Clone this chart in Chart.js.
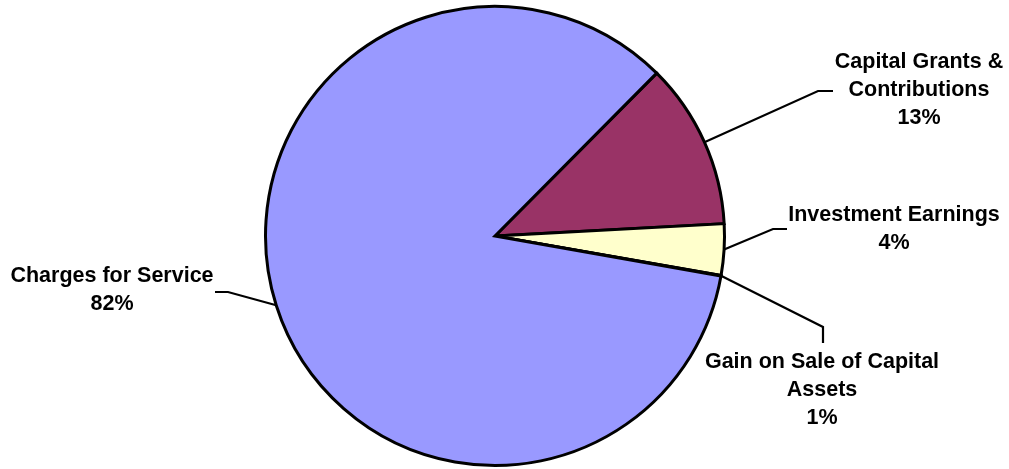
<!DOCTYPE html>
<html>
<head>
<meta charset="utf-8">
<script src="https://cdn.jsdelivr.net/npm/chart.js@4.4.0/dist/chart.umd.min.js"></script>
<style>
  html, body { margin: 0; padding: 0; background: #ffffff; }
  #wrap { width: 1009px; height: 469px; }
</style>
</head>
<body>
<div id="wrap"><canvas id="c" width="1009" height="469"></canvas></div>
<script>
// ---- data ----
const categories = ["Capital Grants & Contributions", "Investment Earnings", "Gain on Sale of Capital Assets", "Charges for Service"];
const shares = [11.7, 3.6, 0.05, 84.65];          // slice sizes as drawn
const percentLabels = ["13%", "4%", "1%", "82%"]; // percentages printed on the chart
const labelLines = [
  ["Capital Grants &", "Contributions"],
  ["Investment Earnings"],
  ["Gain on Sale of Capital", "Assets"],
  ["Charges for Service"]
];
const sliceColors = ["#993366", "#FFFFCC", "#CCFFFF", "#9999FF"];

// ---- label layout (annotation placement) ----
const labelLayout = [
  { elbow: [818, 91],  end: [833, 91],  tx: 919, ty: 62,  lh: 28 },
  { elbow: [773, 229], end: [787, 229], tx: 894, ty: 215, lh: 28 },
  { elbow: [823, 327], end: [823, 343], tx: 822, ty: 362, lh: 28 },
  { elbow: [228, 292], end: [215, 292], tx: 112, ty: 276, lh: 28 }
];

const leaderPlugin = {
  id: 'leaders',
  afterDraw(chart) {
    const ctx = chart.ctx;
    const arcs = chart.getDatasetMeta(0).data;
    ctx.save();
    ctx.strokeStyle = '#000';
    ctx.lineWidth = 2.2;
    ctx.fillStyle = '#000';
    ctx.font = 'bold 21.5px "Liberation Sans", Arial, sans-serif';
    ctx.textAlign = 'center';
    ctx.textBaseline = 'middle';
    arcs.forEach((arc, i) => {
      const p = arc.getProps(['x', 'y', 'startAngle', 'endAngle', 'outerRadius'], true);
      const mid = (p.startAngle + p.endAngle) / 2;
      const sx = p.x + Math.cos(mid) * p.outerRadius;
      const sy = p.y + Math.sin(mid) * p.outerRadius;
      const L = labelLayout[i];
      ctx.beginPath();
      ctx.moveTo(sx, sy);
      ctx.lineTo(L.elbow[0], L.elbow[1]);
      ctx.lineTo(L.end[0], L.end[1]);
      ctx.stroke();
      const lines = labelLines[i].concat([percentLabels[i]]);
      lines.forEach((t, k) => ctx.fillText(t, L.tx, L.ty + k * L.lh));
    });
    ctx.restore();
  }
};

new Chart(document.getElementById('c'), {
  type: 'pie',
  data: {
    labels: categories,
    datasets: [{
      data: shares,
      backgroundColor: sliceColors,
      borderColor: '#000000',
      borderWidth: 3,
      borderJoinStyle: 'miter'
    }]
  },
  options: {
    responsive: false,
    animation: false,
    rotation: 44.8,
    layout: { padding: { left: 264, right: 283, top: 5, bottom: 2 } },
    events: [],
    plugins: {
      legend: { display: false },
      tooltip: { enabled: false },
      title: { display: false }
    }
  },
  plugins: [leaderPlugin]
});
</script>
</body>
</html>
